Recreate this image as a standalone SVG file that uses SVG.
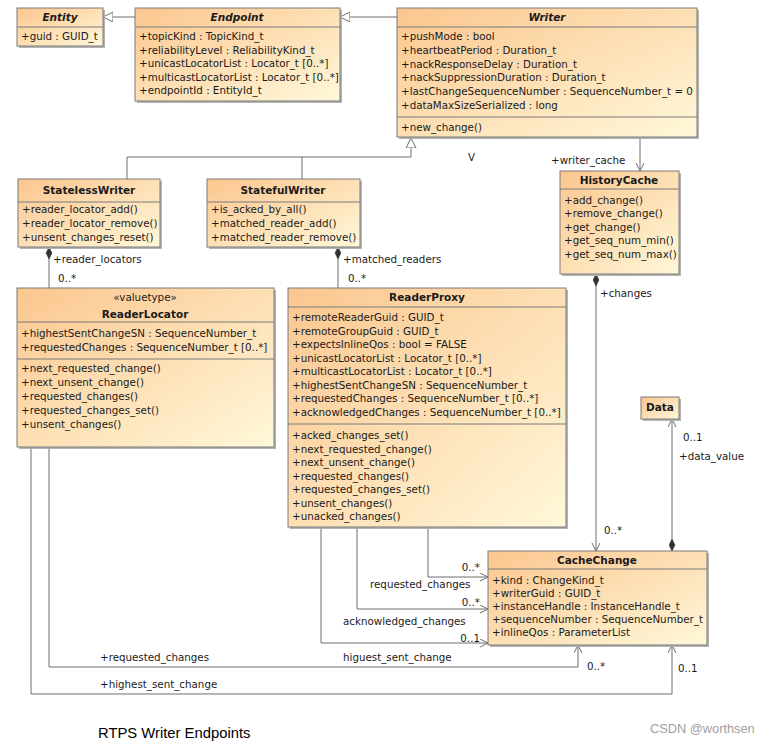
<svg xmlns="http://www.w3.org/2000/svg" width="771" height="743" viewBox="0 0 771 743">
<style>
text{font-family:"DejaVu Sans","Noto Sans",sans-serif;font-size:10.3px;fill:#1a1a1a}
.t{font-weight:bold;text-anchor:middle;font-size:10.5px}
.ti{font-weight:bold;font-style:italic;text-anchor:middle;font-size:10.5px}
.st{text-anchor:middle}
.box{fill:url(#g);stroke:#7a7a7a;stroke-width:1}
.sh{fill:#b4b4b4}
.sep{stroke:#7a7a7a;stroke-width:1}
.c path{fill:none;stroke:#6e6e6e;stroke-width:1}
.lbl{fill:#2a2a2a}
.r{text-anchor:end}
</style>
<defs>
<linearGradient id="g" x1="0" y1="0" x2="1" y2="1">
<stop offset="0" stop-color="#fbc68e"/>
<stop offset="1" stop-color="#fff8da"/>
</linearGradient>
<marker id="tri" markerWidth="12" markerHeight="12" refX="10" refY="5" orient="auto" markerUnits="userSpaceOnUse">
<path d="M0,0 L10,5 L0,10 Z" fill="#fff" stroke="#6e6e6e"/>
</marker>
<marker id="arr" markerWidth="12" markerHeight="12" refX="8" refY="4" orient="auto" markerUnits="userSpaceOnUse">
<path d="M0,0 L8,4 L0,8" fill="none" stroke="#6e6e6e"/>
</marker>
<marker id="dia" markerWidth="14" markerHeight="10" refX="0" refY="3" orient="auto" markerUnits="userSpaceOnUse">
<path d="M0,3 L6,0 L12,3 L6,6 Z" fill="#333" stroke="#333" stroke-width="0.5"/>
</marker>
</defs>
<rect width="771" height="743" fill="#fff"/>

<g class="c" id="connectors">
<path d="M135,17 L103,17" marker-end="url(#tri)"/>
<path d="M397,17 L340,17" marker-end="url(#tri)"/>
<path d="M127,179 L127,157 L411,157 L411,138" marker-end="url(#tri)"/>
<path d="M302,179 L302,157"/>
<path d="M640,138 L640,171" marker-end="url(#arr)"/>
<path d="M49,247 L49,288" marker-start="url(#dia)"/>
<path d="M338,247 L338,288" marker-start="url(#dia)"/>
<path d="M596,274 L596,551" marker-start="url(#dia)" marker-end="url(#arr)"/>
<path d="M672,551 L672,419" marker-start="url(#dia)" marker-end="url(#arr)"/>
<path d="M428,527 L428,577 L488,577" marker-end="url(#arr)"/>
<path d="M357,527 L357,609 L488,609" marker-end="url(#arr)"/>
<path d="M321,527 L321,643 L488,643" marker-end="url(#arr)"/>
<path d="M49,447 L49,667 L578,667 L578,645" marker-end="url(#arr)"/>
<path d="M31,447 L31,694 L672,694 L672,645" marker-end="url(#arr)"/>
</g>

<g id="connector-labels" class="lbl">
<text x="468" y="161" font-size="9">V</text>
<text x="551" y="164">+writer_cache</text>
<text x="53" y="263">+reader_locators</text>
<text x="58" y="282">0..*</text>
<text x="343" y="263">+matched_readers</text>
<text x="348" y="282">0..*</text>
<text x="600" y="297">+changes</text>
<text x="604" y="534">0..*</text>
<text x="683" y="441">0..1</text>
<text x="679" y="460">+data_value</text>
<text x="480" y="571" class="r">0..*</text>
<text x="370" y="588">requested_changes</text>
<text x="480" y="606" class="r">0..*</text>
<text x="343" y="625">acknowledged_changes</text>
<text x="480" y="642" class="r">0..1</text>
<text x="343" y="661">higuest_sent_change</text>
<text x="587" y="670">0..*</text>
<text x="678" y="672">0..1</text>
<text x="100" y="661">+requested_changes</text>
<text x="100" y="688">+highest_sent_change</text>
</g>

<g id="Entity">
<rect class="sh" x="19" y="10" width="86" height="38"/>
<rect class="box" x="17" y="8" width="86" height="38"/>
<line class="sep" x1="17" y1="27" x2="103" y2="27"/>
<text class="ti" x="60" y="21">Entity</text>
<text x="21" y="40">+guid : GUID_t</text>
</g>

<g id="Endpoint">
<rect class="sh" x="137" y="10" width="205" height="93"/>
<rect class="box" x="135" y="8" width="205" height="93"/>
<line class="sep" x1="135" y1="27" x2="340" y2="27"/>
<text class="ti" x="237" y="21">Endpoint</text>
<text x="139" y="40">+topicKind : TopicKind_t</text>
<text x="139" y="54">+reliabilityLevel : ReliabilityKind_t</text>
<text x="139" y="67">+unicastLocatorList : Locator_t [0..*]</text>
<text x="139" y="81">+multicastLocatorList : Locator_t [0..*]</text>
<text x="139" y="94">+endpointId : EntityId_t</text>
</g>

<g id="Writer">
<rect class="sh" x="399" y="10" width="300" height="129"/>
<rect class="box" x="397" y="8" width="300" height="129"/>
<line class="sep" x1="397" y1="27" x2="697" y2="27"/>
<line class="sep" x1="397" y1="117" x2="697" y2="117"/>
<text class="ti" x="547" y="21">Writer</text>
<text x="401" y="40">+pushMode : bool</text>
<text x="401" y="54">+heartbeatPeriod : Duration_t</text>
<text x="401" y="68">+nackResponseDelay : Duration_t</text>
<text x="401" y="81">+nackSuppressionDuration : Duration_t</text>
<text x="401" y="95">+lastChangeSequenceNumber : SequenceNumber_t = 0</text>
<text x="401" y="109">+dataMaxSizeSerialized : long</text>
<text x="401" y="131">+new_change()</text>
</g>

<g id="StatelessWriter">
<rect class="sh" x="20" y="181" width="142" height="68"/>
<rect class="box" x="18" y="179" width="142" height="68"/>
<line class="sep" x1="18" y1="202" x2="160" y2="202"/>
<text class="t" x="89" y="194">StatelessWriter</text>
<text x="22" y="213">+reader_locator_add()</text>
<text x="22" y="227">+reader_locator_remove()</text>
<text x="22" y="241">+unsent_changes_reset()</text>
</g>

<g id="StatefulWriter">
<rect class="sh" x="209" y="181" width="153" height="68"/>
<rect class="box" x="207" y="179" width="153" height="68"/>
<line class="sep" x1="207" y1="202" x2="360" y2="202"/>
<text class="t" x="283" y="194">StatefulWriter</text>
<text x="211" y="213">+is_acked_by_all()</text>
<text x="211" y="227">+matched_reader_add()</text>
<text x="211" y="241">+matched_reader_remove()</text>
</g>

<g id="HistoryCache">
<rect class="sh" x="562" y="173" width="119" height="103"/>
<rect class="box" x="560" y="171" width="119" height="103"/>
<line class="sep" x1="560" y1="189" x2="679" y2="189"/>
<text class="t" x="619" y="184">HistoryCache</text>
<text x="564" y="204">+add_change()</text>
<text x="564" y="217">+remove_change()</text>
<text x="564" y="231">+get_change()</text>
<text x="564" y="244">+get_seq_num_min()</text>
<text x="564" y="258">+get_seq_num_max()</text>
</g>

<g id="ReaderLocator">
<rect class="sh" x="19" y="290" width="257" height="159"/>
<rect class="box" x="17" y="288" width="257" height="159"/>
<line class="sep" x1="17" y1="322" x2="274" y2="322"/>
<line class="sep" x1="17" y1="359" x2="274" y2="359"/>
<text class="st" x="145" y="301">«valuetype»</text>
<text class="t" x="145" y="318">ReaderLocator</text>
<text x="21" y="337">+highestSentChangeSN : SequenceNumber_t</text>
<text x="21" y="351">+requestedChanges : SequenceNumber_t [0..*]</text>
<text x="21" y="372">+next_requested_change()</text>
<text x="21" y="386">+next_unsent_change()</text>
<text x="21" y="400">+requested_changes()</text>
<text x="21" y="414">+requested_changes_set()</text>
<text x="21" y="428">+unsent_changes()</text>
</g>

<g id="ReaderProxy">
<rect class="sh" x="290" y="290" width="278" height="239"/>
<rect class="box" x="288" y="288" width="278" height="239"/>
<line class="sep" x1="288" y1="307" x2="566" y2="307"/>
<line class="sep" x1="288" y1="424" x2="566" y2="424"/>
<text class="t" x="427" y="301">ReaderProxy</text>
<text x="292" y="321">+remoteReaderGuid : GUID_t</text>
<text x="292" y="335">+remoteGroupGuid : GUID_t</text>
<text x="292" y="348">+expectsInlineQos : bool = FALSE</text>
<text x="292" y="362">+unicastLocatorList : Locator_t [0..*]</text>
<text x="292" y="375">+multicastLocatorList : Locator_t [0..*]</text>
<text x="292" y="389">+highestSentChangeSN : SequenceNumber_t</text>
<text x="292" y="402">+requestedChanges : SequenceNumber_t [0..*]</text>
<text x="292" y="416">+acknowledgedChanges : SequenceNumber_t [0..*]</text>
<text x="292" y="439">+acked_changes_set()</text>
<text x="292" y="453">+next_requested_change()</text>
<text x="292" y="466">+next_unsent_change()</text>
<text x="292" y="480">+requested_changes()</text>
<text x="292" y="493">+requested_changes_set()</text>
<text x="292" y="507">+unsent_changes()</text>
<text x="292" y="520">+unacked_changes()</text>
</g>

<g id="CacheChange">
<rect class="sh" x="490" y="553" width="219" height="94"/>
<rect class="box" x="488" y="551" width="219" height="94"/>
<line class="sep" x1="488" y1="569" x2="707" y2="569"/>
<text class="t" x="597" y="564">CacheChange</text>
<text x="492" y="584">+kind : ChangeKind_t</text>
<text x="492" y="597">+writerGuid : GUID_t</text>
<text x="492" y="610">+instanceHandle : InstanceHandle_t</text>
<text x="492" y="623">+sequenceNumber : SequenceNumber_t</text>
<text x="492" y="636">+inlineQos : ParameterList</text>
</g>

<g id="Data">
<rect class="sh" x="643" y="399" width="38" height="22"/>
<rect class="box" x="641" y="397" width="38" height="22"/>
<text class="t" x="660" y="411">Data</text>
</g>

<text x="98" y="738" style="font-family:'Liberation Sans',Arial,sans-serif;font-size:14.8px;fill:#000">RTPS Writer Endpoints</text>
<text x="650" y="733" style="font-family:'Liberation Sans',Arial,sans-serif;font-size:12.8px;fill:#a0a0a0">CSDN @worthsen</text>
</svg>
